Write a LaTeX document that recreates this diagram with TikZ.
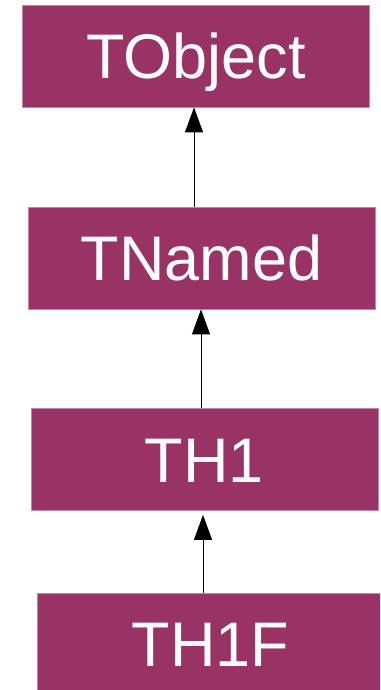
\documentclass[tikz,border=0pt]{standalone}
\usepackage{fontspec}
\setmainfont{Liberation Sans}
\usetikzlibrary{arrows.meta}
\definecolor{classfill}{HTML}{993366}
\definecolor{classedge}{HTML}{C585A8}
\tikzset{
  classbox/.style={rectangle, fill=classfill, draw=classedge, line width=0.8pt,
    minimum width=347pt, minimum height=102pt, inner sep=0pt, text=white,
    text height=45pt, text depth=0pt,
    font=\fontsize{63}{63}\selectfont},
  inherit/.style={draw=black, line width=1pt,
    -{Triangle[width=18pt,length=25pt]}}
}
\begin{document}
\begin{tikzpicture}[x=1pt,y=-1pt]
  \useasboundingbox (0,0) rectangle (380,690);
  \clip (0,0) rectangle (380,690);
  \node[classbox] (tobject) at (196,56)    {TObject};
  \node[classbox] (tnamed)  at (201.5,258) {TNamed};
  \node[classbox] (th1)     at (204.5,459.5) {TH1};
  \node[classbox] (th1f)    at (210.5,644) {TH1F};
  % inheritance arrows, child to parent
  \draw[inherit] ([xshift=-7.5pt]tnamed.north) -- ([xshift=-7.5pt]tnamed.north |- tobject.south);
  \draw[inherit] ([xshift=-3.5pt]th1.north) -- ([xshift=-3.5pt]th1.north |- tnamed.south);
  \draw[inherit] ([xshift=-7.5pt]th1f.north) -- ([xshift=-7.5pt,yshift=-4pt]th1f.north |- th1.south);
\end{tikzpicture}
\end{document}
